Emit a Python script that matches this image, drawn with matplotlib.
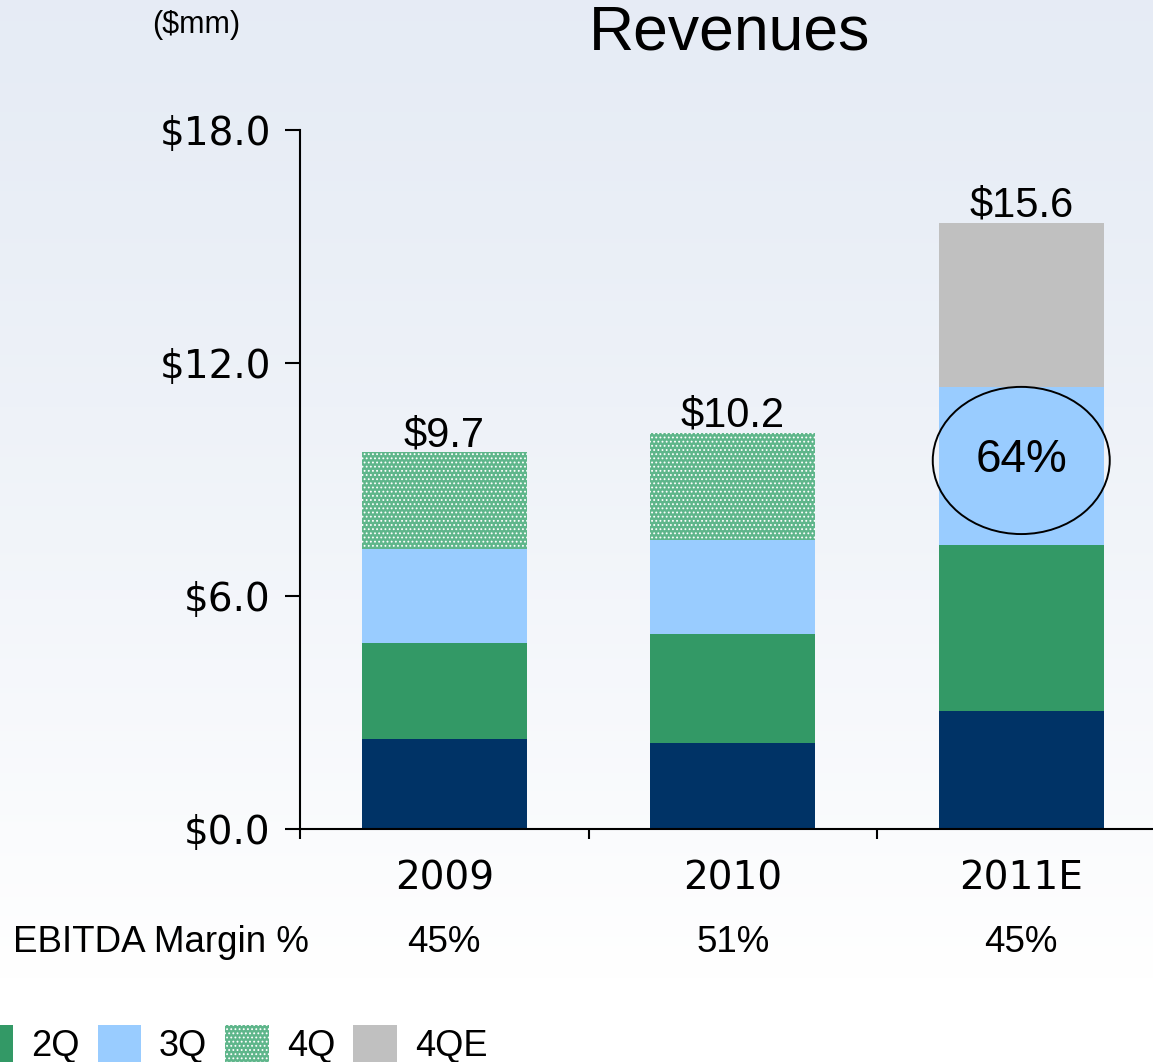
import numpy as np
import matplotlib
matplotlib.use("Agg")
import matplotlib.pyplot as plt
from matplotlib.patches import Ellipse, Patch

# ---------------------------------------------------------------------------
# data ($mm)
# ---------------------------------------------------------------------------
years = ["2009", "2010", "2011E"]
q1 = [2.32, 2.21, 3.04]
q2 = [2.47, 2.81, 4.27]
q3 = [2.42, 2.42, 4.07]
q4 = [2.49, 2.76, 0.0]      # actual 4Q (2009, 2010)
q4e = [0.0, 0.0, 4.22]      # estimated 4Q (2011E)
totals = ["$9.7", "$10.2", "$15.6"]
ebitda = ["45%", "51%", "45%"]
yticks = [0.0, 6.0, 12.0, 18.0]
callout = "64%"

NAVY = "#003366"
GREEN = "#339966"
LBLUE = "#99ccff"
HATCH_G = "#5fb68b"
GREY = "#c0c0c0"

plt.rcParams["hatch.linewidth"] = 0.8

fig = plt.figure(figsize=(11.53, 10.62), dpi=100)

# ---- background gradient ----
bg = fig.add_axes([0, 0, 1, 1], zorder=-10)
top = np.array([0.902, 0.925, 0.961])
bot = np.array([1.0, 1.0, 1.0])
t = np.clip(np.linspace(0, 1, 400) / 0.92, 0, 1) ** 1.3
grad = top[None, :] * (1 - t[:, None]) + bot[None, :] * t[:, None]
bg.imshow(grad[:, None, :], aspect="auto", extent=[0, 1, 0, 1])
bg.set_axis_off()

# ---- main axes ----
ax = fig.add_axes([300 / 1153, 233 / 1062, 865.5 / 1153, 699 / 1062])
ax.set_facecolor("none")
x = np.arange(len(years))
w = 0.572

b = np.zeros(len(years))
ax.bar(x, q1, w, bottom=b, color=NAVY, label="1Q")
b += q1
ax.bar(x, q2, w, bottom=b, color=GREEN, label="2Q")
b += q2
ax.bar(x, q3, w, bottom=b, color=LBLUE, label="3Q")
b += q3
ax.bar(x, q4, w, bottom=b, facecolor=HATCH_G, edgecolor="white",
       hatch="....", linewidth=0, label="4Q")
b += q4
ax.bar(x, q4e, w, bottom=b, color=GREY, label="4QE")
b += q4e

for xi, tot, lab in zip(x, b, totals):
    ax.annotate(lab, (xi, tot), xytext=(0, -2), textcoords="offset points",
                ha="center", va="bottom", fontsize=30, family="Liberation Sans")

# callout ellipse on 2011E
ax.add_patch(Ellipse((2.0, 9.49), 0.6135, 3.79, facecolor="none",
                     edgecolor="black", linewidth=1.4, zorder=5))
ax.text(2.0, 9.49, callout, ha="center", va="center", fontsize=33,
        family="Liberation Sans", zorder=6)

ax.set_xlim(-0.5, 2.5)
ax.set_ylim(0, 18)
ax.set_yticks(yticks)
ax.set_yticklabels([f"${v:.1f}" for v in yticks])
ax.set_xticks(x)
ax.set_xticklabels(years)
ax.set_xticks([-0.5, 0.5, 1.5, 2.5], minor=True)
ax.tick_params(axis="y", length=11, width=1.5, labelsize=28, pad=10)
ax.tick_params(axis="x", which="major", length=0, labelsize=28, pad=22)
ax.tick_params(axis="x", which="minor", length=7, width=1.5)
for lbl in ax.get_xticklabels() + ax.get_yticklabels():
    lbl.set_family("DejaVu Sans")
for s in ("top", "right"):
    ax.spines[s].set_visible(False)
for s in ("left", "bottom"):
    ax.spines[s].set_linewidth(1.5)

# ---- header / footer text ----
fig.text(730 / 1153, 1 - 33 / 1062, "Revenues", ha="center", va="center",
         fontsize=45, family="Liberation Sans")
fig.text(196 / 1153, 1 - 25 / 1062, "($mm)", ha="center", va="center",
         fontsize=22, family="Liberation Sans")
fig.text(13 / 1153, 1 - 942 / 1062, "EBITDA Margin %", ha="left", va="center",
         fontsize=26.5, family="Liberation Sans")
for xi, m in zip(x, ebitda):
    fx = (300 + (xi + 0.5) * 288.5) / 1153
    fig.text(fx, 1 - 942 / 1062, m, ha="center", va="center",
             fontsize=26.5, family="Liberation Sans")

# ---- legend (partly cut off on the left, as in the source slide) ----
handles = [
    Patch(facecolor=NAVY, label="1Q"),
    Patch(facecolor=GREEN, label="2Q"),
    Patch(facecolor=LBLUE, label="3Q"),
    Patch(facecolor=HATCH_G, edgecolor="white", hatch="....", linewidth=0, label="4Q"),
    Patch(facecolor=GREY, label="4QE"),
]
fig.legend(handles=handles, loc="lower left", ncol=5, frameon=False,
           bbox_to_anchor=(-158 / 1153, -2 / 1062), bbox_transform=fig.transFigure,
           prop={"family": "Liberation Sans", "size": 26},
           handlelength=1.2, handleheight=1.2, handletextpad=0.5,
           columnspacing=0.5, borderpad=0, borderaxespad=0)

fig.savefig("out.png", dpi=100)
